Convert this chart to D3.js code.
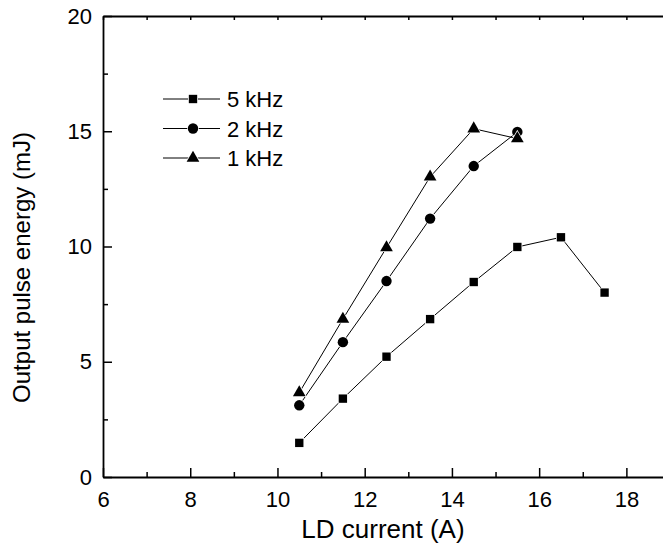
<!DOCTYPE html>
<html lang="en">
<head>
    <meta charset="UTF-8">
    <title>Output pulse energy vs LD current</title>
    <script src="https://d3js.org/d3.v7.min.js"></script>
    <style>
        body {
            margin: 0;
            padding: 0;
            background: #fff;
        }
        svg text {
            font-family: "Liberation Sans", Arial, sans-serif;
            fill: #000;
        }
        .frame {
            stroke: #000;
            stroke-width: 1.8px;
            fill: none;
        }
        .series-line {
            fill: none;
            stroke: #000;
            stroke-width: 1px;
        }
    </style>
</head>
<body>
    <script>
        // values
        const current = [10.5, 11.5, 12.5, 13.5, 14.5, 15.5, 16.5, 17.5];
        const energy5k = [1.48, 3.40, 5.22, 6.85, 8.46, 9.98, 10.40, 8.00];
        const energy2k = [3.11, 5.85, 8.50, 11.21, 13.49, 14.97];
        const energy1k = [3.66, 6.85, 9.95, 13.02, 15.11, 14.68];

        const seriesNames = ['5 kHz', '2 kHz', '1 kHz'];
        const seriesSymbols = [d3.symbolSquare, d3.symbolCircle, d3.symbolTriangle];
        const xTicks = [6, 8, 10, 12, 14, 16, 18];
        const yTicks = [0, 5, 10, 15, 20];

        const width = 663, height = 550;
        const margin = { top: 16, right: -7, bottom: 73, left: 103 };

        const svg = d3.select('body').append('svg')
            .attr('width', width)
            .attr('height', height);

        const x = d3.scaleLinear().domain([6, 19]).range([margin.left, width - margin.right]);
        const y = d3.scaleLinear().domain([0, 20]).range([height - margin.bottom, margin.top]);

        const x0 = x(6), y0 = y(0);

        // minor ticks every 1 on x, every 2.5 on y
        const xMinor = d3.range(7, 19, 2);
        const yMinor = d3.range(2.5, 20, 5);

        const axes = svg.append('g');

        // bottom axis, ticks pointing inward
        axes.append('g')
            .attr('transform', `translate(0,${y0})`)
            .call(d3.axisBottom(x).tickValues(xTicks).tickSize(-9).tickSizeOuter(0).tickPadding(14).tickFormat(d3.format('d')))
            .call(g => g.select('.domain').attr('class', 'frame'))
            .call(g => g.selectAll('.tick line').attr('stroke-width', 1.5))
            .call(g => g.selectAll('text').attr('font-size', 22).attr('font-family', null));
        axes.append('g')
            .attr('transform', `translate(0,${y0})`)
            .call(d3.axisBottom(x).tickValues(xMinor).tickSize(-5).tickFormat(''))
            .call(g => g.select('.domain').remove())
            .call(g => g.selectAll('.tick line').attr('stroke-width', 1.5));

        // top frame with small ticks pointing down
        axes.append('g')
            .attr('transform', `translate(0,${y(20)})`)
            .call(d3.axisTop(x).tickValues(xTicks.concat(xMinor)).tickSize(-4).tickSizeOuter(0).tickFormat(''))
            .call(g => g.select('.domain').attr('class', 'frame'))
            .call(g => g.selectAll('.tick line').attr('stroke-width', 1.5));

        // left axis
        axes.append('g')
            .attr('transform', `translate(${x0},0)`)
            .call(d3.axisLeft(y).tickValues(yTicks).tickSize(-9).tickSizeOuter(0).tickPadding(11).tickFormat(d3.format('d')))
            .call(g => g.select('.domain').attr('class', 'frame'))
            .call(g => g.selectAll('.tick line').attr('stroke-width', 1.5))
            .call(g => g.selectAll('text').attr('font-size', 22).attr('font-family', null));
        axes.append('g')
            .attr('transform', `translate(${x0},0)`)
            .call(d3.axisLeft(y).tickValues(yMinor).tickSize(-5).tickFormat(''))
            .call(g => g.select('.domain').remove())
            .call(g => g.selectAll('.tick line').attr('stroke-width', 1.5));

        axes.selectAll('.tick text').attr('fill', '#000');

        // axis titles
        svg.append('text')
            .attr('x', (x0 + width) / 2)
            .attr('y', 538)
            .attr('text-anchor', 'middle')
            .attr('font-size', 26)
            .text('LD current (A)');

        svg.append('text')
            .attr('transform', `translate(30,${(y(0) + y(20)) / 2 + 21}) rotate(-90)`)
            .attr('text-anchor', 'middle')
            .attr('font-size', 24)
            .text('Output pulse energy (mJ)');

        // series
        const series = [energy5k, energy2k, energy1k].map((vals, i) => ({
            name: seriesNames[i],
            symbol: seriesSymbols[i],
            points: vals.map((v, j) => ({ x: current[j], y: v }))
        }));

        const line = d3.line().x(d => x(d.x)).y(d => y(d.y));
        const symbolSize = [70, 85, 70];

        const plot = svg.append('g');
        series.forEach(s => {
            plot.append('path')
                .datum(s.points)
                .attr('class', 'series-line')
                .attr('d', line);
        });
        series.forEach((s, i) => {
            plot.selectAll(null)
                .data(s.points)
                .enter().append('path')
                .attr('transform', d => `translate(${x(d.x)},${y(d.y)})`)
                .attr('d', d3.symbol().type(s.symbol).size(symbolSize[i]))
                .attr('fill', '#000')
                .attr('stroke', '#fff')
                .attr('stroke-width', 1.5)
                .attr('paint-order', 'stroke');
        });

        // legend
        const legend = svg.append('g').attr('transform', 'translate(163,99)');
        series.forEach((s, i) => {
            const row = legend.append('g').attr('transform', `translate(0,${i * 29.5})`);
            row.append('line')
                .attr('x1', 0).attr('x2', 57)
                .attr('y1', 0).attr('y2', 0)
                .attr('stroke', '#000').attr('stroke-width', 1);
            row.append('path')
                .attr('transform', 'translate(30,0)')
                .attr('d', d3.symbol().type(s.symbol).size(symbolSize[i]))
                .attr('fill', '#000')
                .attr('stroke', '#fff')
                .attr('stroke-width', 1.5)
                .attr('paint-order', 'stroke');
            row.append('text')
                .attr('x', 64)
                .attr('y', 8)
                .attr('font-size', 22)
                .text(s.name);
        });
    </script>
</body>
</html>
